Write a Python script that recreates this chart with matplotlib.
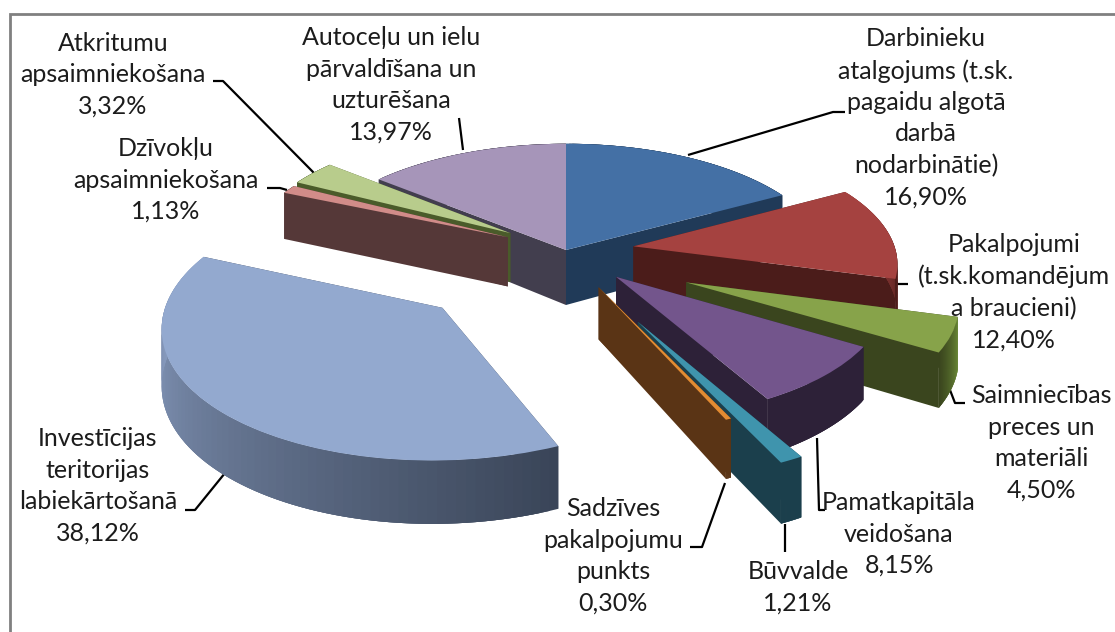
import numpy as np
import matplotlib
matplotlib.use("Agg")
import matplotlib.pyplot as plt
from matplotlib.colors import to_rgb
from matplotlib.transforms import Transform

plt.rcParams['font.family'] = ['Lato', 'DejaVu Sans']

# datu vērtības (%), secība pulksteņrādītāja virzienā no augšas
names = ["Darbinieku\natalgojums (t.sk.\npagaidu algotā\ndarbā\nnodarbinātie)",
         "Pakalpojumi\n(t.sk.komandējum\na braucieni)",
         "Saimniecības\npreces un\nmateriāli",
         "Pamatkapitāla\nveidošana",
         "Būvvalde",
         "Sadzīves\npakalpojumu\npunkts",
         "Investīcijas\nteritorijas\nlabiekārtošanā",
         "Dzīvokļu\napsaimniekošana",
         "Atkritumu\napsaimniekošana",
         "Autoceļu un ielu\npārvaldīšana un\nuzturēšana"]
values = [16.90, 12.40, 4.50, 8.15, 1.21, 0.30, 38.12, 1.13, 3.32, 13.97]
value_labels = ["16,90%", "12,40%", "4,50%", "8,15%", "1,21%", "0,30%", "38,12%", "1,13%", "3,32%", "13,97%"]

# izskats
explode = [0, 0.26, 0.50, 0.27, 0.63, 0.33, 0.65, 0.25, 0.26, 0]
top_colors = ['#4470a5', '#a54240', '#87a34a', '#73558c', '#3f94ad', '#e28b32', '#93a9cf', '#d18c89', '#b8cc8c', '#a695b9']
wall_colors = ['#203a58', '#4b1c1a', '#3a451e', '#2d2138', '#1b3f4c', '#5a3415', '#3a4558', '#553838', '#4a5b2a', '#423e4e']
# ārējās malas krāsa loka sākumā un beigās
arc_start = ['#203a58', '#a54240', '#6a8a35', '#2d2138', '#1b3f4c', '#5a3415', '#3a4558', '#553838', '#4a5b2a', '#423e4e']
arc_end = ['#203a58', '#4b1c1a', '#3a451e', '#2d2138', '#1b3f4c', '#5a3415', '#94a9cf', '#553838', '#4a5b2a', '#423e4e']
depths = [55, 50, 50, 48, 50, 50, 52, 50, 50, 55]
shift_x = [0, 0, -3, 0, -8, -4, 4, 0, 0, 0]
shift_y = [0, 0, 8, 3, 0, 0, 0, 0, 0, 0]
lean = [0, 0, 0, 0, 0, 0, 8, 0, 0, 0]
draw_order = [0, 9, 1, 2, 3, 8, 7, 4, 5, 6]

# etiķešu centri pikseļos
label_x = [926, 1014, 1041, 899, 798, 613, 98, 166, 113, 391]
label_y = [118, 292, 443, 534, 587, 556, 486, 180, 75, 85]

# līnijas pie etiķetēm
leaders = [([845, 833, 688], [112, 112, 155]),
           ([887, 897, 908], [235, 284, 284]),
           ([950, 955, 965], [390, 403, 403]),
           ([817, 819, 825], [438, 510, 510]),
           ([785, 785], [524, 552]),
           ([725, 702, 690], [483, 547, 547]),
           ([225, 195, 185], [473, 510, 510]),
           ([267, 280, 287], [188, 188, 190]),
           ([213, 223, 314], [81, 81, 173]),
           ([459, 463], [118, 150])]

# projekcijas parametri
CX, CY = 566, 250
RX, RY = 262, 119
P = 0.12
K = 0.15


def project(u, v, i, cv, depth=0.0):
    s = 1 / (1 + P * v)
    x = CX + RX * u * s + shift_x[i] + lean[i] * (cv - v)
    y = CY - RY * v * s + depth * (1 - K * v) + shift_y[i]
    return x, y


class PieProjection(Transform):
    input_dims = 2
    output_dims = 2
    is_separable = False
    has_inverse = False

    def __init__(self, i, cv):
        super().__init__()
        self.i = i
        self.cv = cv

    def transform_non_affine(self, values):
        values = np.asarray(values)
        x, y = project(values[:, 0], values[:, 1], self.i, self.cv)
        return np.column_stack([x, y])


def mix(c1, c2, t):
    a, b = np.array(to_rgb(c1)), np.array(to_rgb(c2))
    return tuple(a + (b - a) * t)


fig = plt.figure(figsize=(11.15, 6.32), dpi=100)
ax = fig.add_axes([0, 0, 1, 1])

wedges, _ = ax.pie(values, explode=explode, colors=top_colors, startangle=90,
                   counterclock=False, radius=1, wedgeprops={'linewidth': 0})
ax.set_aspect('auto')
ax.set_xlim(0, 1115)
ax.set_ylim(632, 0)
ax.axis('off')

for z, i in enumerate(draw_order):
    w = wedges[i]
    base = 10 + z * 2
    cu, cv = w.center
    theta = np.radians(np.linspace(w.theta1, w.theta2, 80))
    # pulksteņrādītāja virzienā, tāpēc loks iet no theta2 uz theta1
    theta = theta[::-1]
    u = cu + np.cos(theta)
    v = cv + np.sin(theta)
    d = depths[i]

    # radiālās sienas
    for k in (0, -1):
        xt, yt = project(np.array([cu, u[k]]), np.array([cv, v[k]]), i, cv)
        xb, yb = project(np.array([cu, u[k]]), np.array([cv, v[k]]), i, cv, d)
        ax.fill([xt[0], xt[1], xb[1], xb[0]], [yt[0], yt[1], yb[1], yb[0]],
                color=wall_colors[i], lw=0, zorder=base)

    # ārējā mala pa sloksnēm, katra pārklāj nākamo, lai nav šuvju
    xt, yt = project(u, v, i, cv)
    xb, yb = project(u, v, i, cv, d)
    n = len(u)
    for j in range(n - 1):
        c = mix(arc_start[i], arc_end[i], j / (n - 2))
        e = min(j + 3, n - 1)
        ax.fill(np.r_[xt[j:e + 1], xb[j:e + 1][::-1]], np.r_[yt[j:e + 1], yb[j:e + 1][::-1]],
                color=c, lw=0, zorder=base)

    w.set_transform(PieProjection(i, cv) + ax.transData)
    w.set_clip_on(False)
    w.set_zorder(base + 1)

for (lx, ly) in leaders:
    ax.plot(lx, ly, color='black', lw=1.6, zorder=5, solid_capstyle='butt')

for name, val, x, y in zip(names, value_labels, label_x, label_y):
    ax.text(x, y, name + "\n" + val, ha='center', va='center', fontsize=18,
            linespacing=1.44, color='#1c1c1c', zorder=50)

# rāmis
ax.plot([10, 10, 1115], [632, 14, 14], color='#808080', lw=2, zorder=60, solid_joinstyle='miter')

fig.savefig('out.png', dpi=100)
